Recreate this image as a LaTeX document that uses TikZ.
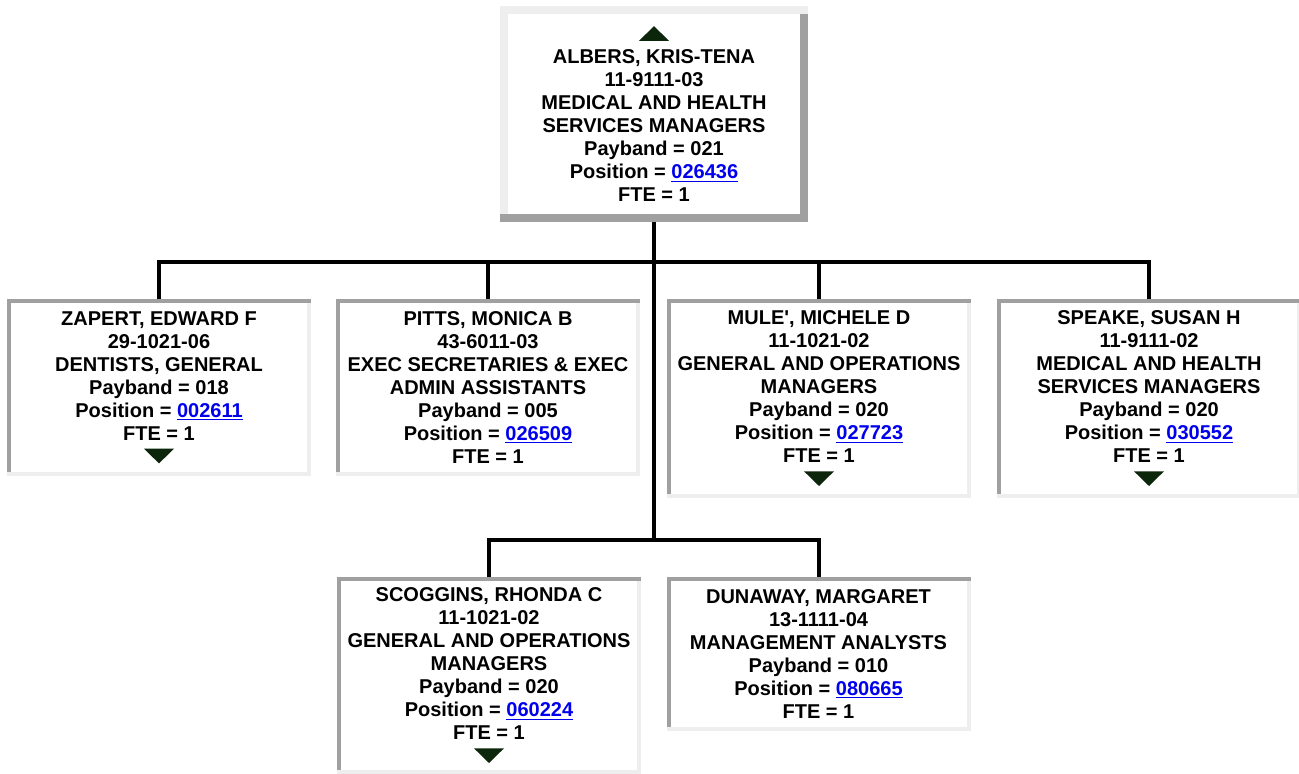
\documentclass[tikz,border=0pt]{standalone}
\usepackage{fontspec}
\setmainfont{Liberation Sans}[Ligatures=TeXOff]
\usepackage{xcolor}
\usepackage{tikz}
\usetikzlibrary{positioning, backgrounds, calc}
\definecolor{edgelight}{RGB}{238,238,238}
\definecolor{edgedark}{RGB}{160,160,160}
\definecolor{linkblue}{RGB}{0,0,238}
\definecolor{markgreen}{RGB}{12,38,12}
\newcommand{\poslink}[1]{\textcolor{linkblue}{\underline{#1}}}
\newcommand{\uptri}{\tikz[baseline=0pt]\fill[markgreen] (0pt,0pt) -- (22.5pt,0pt) -- (11.25pt,11pt) -- cycle;}
\newcommand{\dntri}{\tikz[baseline=0pt]\fill[markgreen] (0pt,11pt) -- (22.5pt,11pt) -- (11.25pt,0pt) -- cycle;}

\begin{document}
\begin{tikzpicture}[
    x=0.75pt, y=-0.75pt,
    every node/.style={font=\fontsize{15pt}{17.25pt}\selectfont\bfseries, align=center, inner sep=0pt, outer sep=0pt},
    headbox/.style={rectangle, minimum width=231pt, minimum height=162pt},
    staffbox/.style={rectangle, minimum width=228pt},
    link/.style={line width=3pt, black}
]
\useasboundingbox (0,0) rectangle (1299,774);

% manager
\node[headbox] (albers) at (654,114) {\uptri\\ALBERS, KRIS-TENA\\11-9111-03\\MEDICAL AND HEALTH\\SERVICES MANAGERS\\Payband = 021\\Position = \poslink{026436}\\FTE = 1};

% first row
\node[staffbox, minimum height=132.75pt] (zapert) at (159,387.5) {ZAPERT, EDWARD F\\29-1021-06\\DENTISTS, GENERAL\\Payband = 018\\Position = \poslink{002611}\\FTE = 1\\\dntri};
\node[staffbox, minimum height=132.75pt] (pitts) at (488,387.5) {PITTS, MONICA B\\43-6011-03\\EXEC SECRETARIES \& EXEC\\ADMIN ASSISTANTS\\Payband = 005\\Position = \poslink{026509}\\FTE = 1};
\node[staffbox, minimum height=149.25pt] (mule) at (819,398.5) {MULE', MICHELE D\\11-1021-02\\GENERAL AND OPERATIONS\\MANAGERS\\Payband = 020\\Position = \poslink{027723}\\FTE = 1\\\dntri};
\node[staffbox, minimum height=149.25pt] (speake) at (1149,398.5) {SPEAKE, SUSAN H\\11-9111-02\\MEDICAL AND HEALTH\\SERVICES MANAGERS\\Payband = 020\\Position = \poslink{030552}\\FTE = 1\\\dntri};

% second row
\node[staffbox, minimum height=147.75pt] (scoggins) at (489,675.5) {SCOGGINS, RHONDA C\\11-1021-02\\GENERAL AND OPERATIONS\\MANAGERS\\Payband = 020\\Position = \poslink{060224}\\FTE = 1\\\dntri};
\node[staffbox, minimum height=115.5pt] (dunaway) at (818.5,654) {DUNAWAY, MARGARET\\13-1111-04\\MANAGEMENT ANALYSTS\\Payband = 010\\Position = \poslink{080665}\\FTE = 1};

% frames
\begin{scope}[on background layer]
  \fill[edgedark] (albers.north west) rectangle (albers.south east);
  \fill[edgelight] (albers.north west) rectangle ([yshift=-6pt]albers.north east);
  \fill[edgelight] (albers.north west) rectangle ([shift={(6pt,6pt)}]albers.south west);
  \fill[white] ([shift={(6pt,-6pt)}]albers.north west) rectangle ([shift={(-6pt,6pt)}]albers.south east);
  \foreach \n in {zapert,pitts,mule,speake,scoggins,dunaway}{
    \fill[edgelight] (\n.north west) rectangle (\n.south east);
    \fill[edgedark] (\n.north west) rectangle ([yshift=-3pt]\n.north east);
    \fill[edgedark] (\n.north west) rectangle ([shift={(3pt,3pt)}]\n.south west);
    \fill[white] ([shift={(3pt,-3pt)}]\n.north west) rectangle ([shift={(-3pt,3pt)}]\n.south east);
  }
\end{scope}

% connectors
\coordinate (bus1) at (654,262);
\coordinate (bus2) at (654,540);
\draw[link] (albers.south) -- (bus2);
\draw[link] (zapert.north) |- (bus1) -| (speake.north);
\draw[link] (pitts.north) -- (pitts.north |- bus1);
\draw[link] (mule.north) -- (mule.north |- bus1);
\draw[link] (scoggins.north) |- (bus2) -| (dunaway.north);

\end{tikzpicture}
\end{document}
